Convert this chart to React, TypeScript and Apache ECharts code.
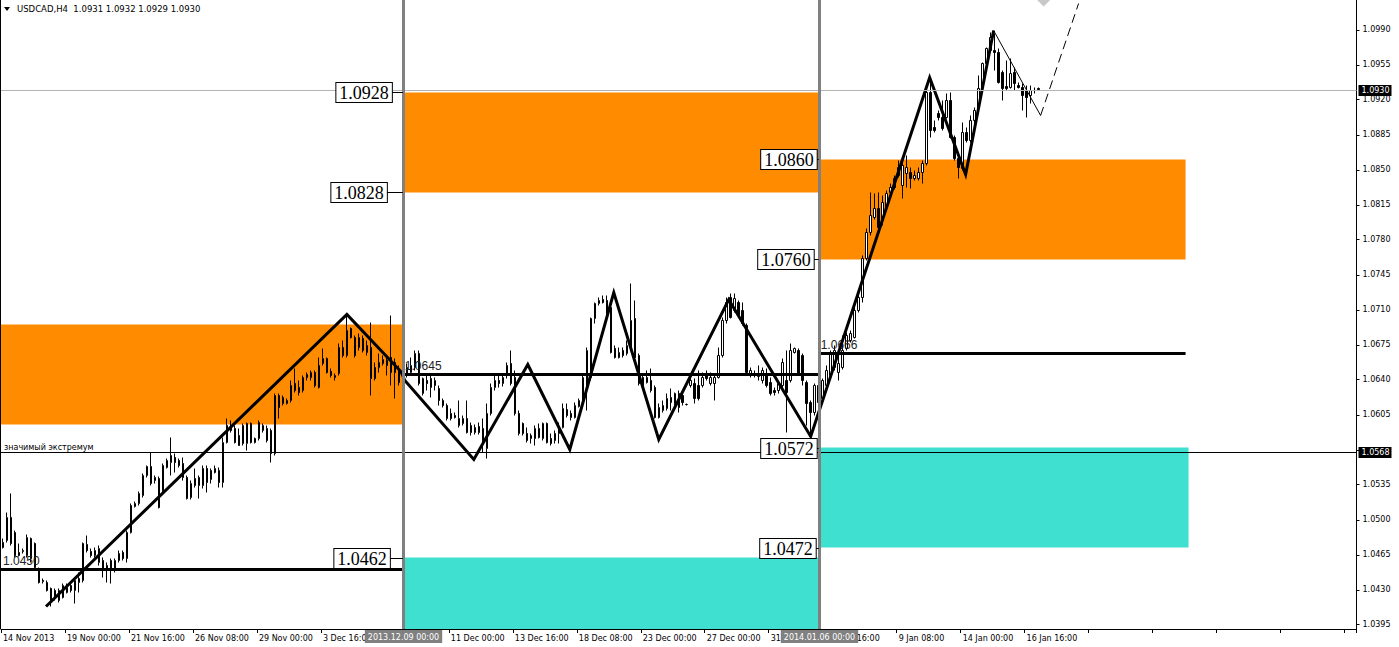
import React, { useEffect, useRef } from 'react';
import * as echarts from 'echarts';

// ---------- data ----------
const title = 'USDCAD,H4  1.0931 1.0932 1.0929 1.0930';
const slotCount = 339;
// one label every 16 bars; labels partly covered by the vertical-line time boxes keep only their visible part
const xTickLabels = ['14 Nov 2013', '19 Nov 00:00', '21 Nov 16:00', '26 Nov 08:00', '29 Nov 00:00', '3 Dec 16:00', '', '11 Dec 00:00', '13 Dec 16:00', '18 Dec 08:00', '23 Dec 00:00', '27 Dec 00:00', '31', '16:00', '9 Jan 08:00', '14 Jan 00:00', '16 Jan 16:00'];
const yTicks = [1.0395, 1.0430, 1.0465, 1.0500, 1.0535, 1.0570, 1.0605, 1.0640, 1.0675, 1.0710, 1.0745, 1.0780, 1.0815, 1.0850, 1.0885, 1.0920, 1.0955, 1.0990];
const yTickLabels = [1.0395, 1.0430, 1.0465, 1.0500, 1.0535, 1.0605, 1.0640, 1.0675, 1.0710, 1.0745, 1.0780, 1.0815, 1.0850, 1.0885, 1.0920, 1.0955, 1.0990];

// [open, close, low, high]
const candlesNov = [
  [1.0472,1.0477,1.0471,1.0481],[1.0479,1.0502,1.0477,1.0507],[1.0502,1.0476,1.0474,1.0526],[1.0487,1.0464,1.0462,1.0489],
  [1.0467,1.0464,1.0463,1.0476],[1.0468,1.0469,1.0466,1.0471],[1.0464,1.0482,1.0462,1.0485],[1.0481,1.0461,1.0457,1.0482],
  [1.0476,1.0452,1.0451,1.0477],[1.0451,1.0437,1.0436,1.0452],[1.0439,1.0438,1.0436,1.0441],[1.0437,1.0429,1.0428,1.0439],
  [1.0431,1.0419,1.0413,1.0432],[1.0429,1.0422,1.0419,1.0431],[1.0419,1.0429,1.0417,1.0431],[1.0422,1.0434,1.0421,1.0436],
  [1.0427,1.0432,1.0426,1.0436],[1.0434,1.0429,1.0427,1.0436],[1.0429,1.0439,1.0416,1.0441],[1.0437,1.0441,1.0427,1.0447],
  [1.0439,1.0476,1.0437,1.0477],[1.0475,1.0469,1.0467,1.0484],[1.0468,1.0464,1.0462,1.0471],[1.0464,1.0469,1.0462,1.0472],
  [1.0457,1.0471,1.0454,1.0474],[1.0459,1.0449,1.0442,1.0462],[1.0454,1.0451,1.0437,1.0457],[1.0459,1.0451,1.0436,1.0461],
  [1.0449,1.0459,1.0447,1.0461],[1.0459,1.0466,1.0457,1.0469],[1.0467,1.0461,1.0459,1.0469],[1.0461,1.0487,1.0457,1.0489],
  [1.0487,1.0514,1.0486,1.0516],[1.0513,1.0516,1.0512,1.0518],[1.0516,1.0526,1.0514,1.0528],[1.0524,1.0544,1.0522,1.0546],
  [1.0544,1.0553,1.0542,1.0554],[1.0553,1.0536,1.0534,1.0567],[1.0539,1.0542,1.0536,1.0544],[1.0541,1.0512,1.0511,1.0543],
  [1.0529,1.0554,1.0527,1.0556],[1.0552,1.0559,1.0551,1.0561],[1.0557,1.0564,1.0544,1.0582],[1.0562,1.0557,1.0547,1.0566],
  [1.0559,1.0554,1.0552,1.0561],[1.0556,1.0542,1.0539,1.0562],[1.0542,1.0521,1.0520,1.0544],[1.0522,1.0536,1.0520,1.0539],
  [1.0534,1.0541,1.0532,1.0551],[1.0542,1.0534,1.0521,1.0544],[1.0534,1.0551,1.0531,1.0554],[1.0551,1.0537,1.0527,1.0554],
  [1.0540,1.0549,1.0536,1.0551],[1.0547,1.0551,1.0546,1.0554],[1.0549,1.0537,1.0532,1.0552],[1.0537,1.0577,1.0532,1.0582],
  [1.0577,1.0594,1.0576,1.0601],[1.0594,1.0589,1.0587,1.0599],[1.0591,1.0577,1.0576,1.0594],[1.0584,1.0574,1.0574,1.0591],
  [1.0576,1.0594,1.0574,1.0596],[1.0576,1.0596,1.0569,1.0597],[1.0596,1.0577,1.0576,1.0597],[1.0577,1.0581,1.0576,1.0582],
  [1.0581,1.0597,1.0579,1.0599],[1.0589,1.0594,1.0587,1.0596],[1.0591,1.0579,1.0577,1.0594],[1.0589,1.0566,1.0557,1.0591],
  [1.0566,1.0624,1.0564,1.0626],[1.0624,1.0612,1.0601,1.0626],[1.0616,1.0622,1.0614,1.0624],[1.0616,1.0619,1.0615,1.0621],
  [1.0619,1.0634,1.0617,1.0639],[1.0636,1.0629,1.0627,1.0651],[1.0632,1.0627,1.0624,1.0639],[1.0629,1.0642,1.0627,1.0644],
  [1.0642,1.0645,1.0639,1.0647],[1.0642,1.0647,1.0639,1.0649],[1.0647,1.0634,1.0632,1.0649],[1.0632,1.0654,1.0631,1.0662],
  [1.0656,1.0661,1.0654,1.0671],[1.0661,1.0647,1.0646,1.0662],[1.0648,1.0644,1.0642,1.0651],[1.0642,1.0644,1.0639,1.0646],
  [1.0646,1.0672,1.0644,1.0676],[1.0672,1.0664,1.0662,1.0679],[1.0664,1.0689,1.0662,1.0704],[1.0691,1.0682,1.0681,1.0692],
  [1.0682,1.0664,1.0662,1.0684],[1.0672,1.0682,1.0669,1.0686],[1.0681,1.0669,1.0667,1.0684],[1.0667,1.0674,1.0664,1.0679],
  [1.0672,1.0641,1.0624,1.0697],[1.0652,1.0641,1.0639,1.0657],[1.0652,1.0657,1.0647,1.0666],[1.0656,1.0660,1.0654,1.0664],
  [1.0659,1.0654,1.0644,1.0664],[1.0662,1.0647,1.0634,1.0704],[1.0657,1.0647,1.0621,1.0661],[1.0649,1.0637,1.0634,1.0654],
  [1.0637,1.0644,1.0634,1.0649],
];
const candlesDec = [
  [1.0646,1.0652,1.0642,1.0656],[1.0647,1.0654,1.0644,1.0662],[1.0652,1.0666,1.0649,1.0669],[1.0666,1.0636,1.0634,1.0669],
  [1.0626,1.0641,1.0624,1.0642],[1.0639,1.0636,1.0629,1.0644],[1.0632,1.0641,1.0622,1.0644],[1.0634,1.0639,1.0629,1.0642],
  [1.0631,1.0619,1.0614,1.0634],[1.0619,1.0614,1.0612,1.0621],[1.0614,1.0601,1.0599,1.0616],[1.0606,1.0601,1.0599,1.0611],
  [1.0604,1.0602,1.0601,1.0607],[1.0594,1.0601,1.0592,1.0619],[1.0596,1.0601,1.0594,1.0604],[1.0601,1.0587,1.0586,1.0619],
  [1.0594,1.0587,1.0584,1.0597],[1.0587,1.0592,1.0585,1.0595],[1.0593,1.0587,1.0585,1.0597],[1.0591,1.0579,1.0567,1.0601],
  [1.0571,1.0606,1.0561,1.0616],[1.0606,1.0632,1.0604,1.0636],[1.0632,1.0639,1.0629,1.0644],[1.0639,1.0636,1.0632,1.0646],
  [1.0636,1.0642,1.0633,1.0644],[1.0646,1.0654,1.0641,1.0657],[1.0656,1.0636,1.0634,1.0669],[1.0642,1.0606,1.0604,1.0649],
  [1.0606,1.0586,1.0584,1.0609],[1.0596,1.0586,1.0584,1.0597],[1.0586,1.0579,1.0577,1.0592],[1.0581,1.0584,1.0576,1.0586],
  [1.0581,1.0591,1.0574,1.0594],[1.0591,1.0582,1.0581,1.0596],[1.0581,1.0596,1.0579,1.0597],[1.0596,1.0577,1.0576,1.0597],
  [1.0581,1.0576,1.0574,1.0586],[1.0579,1.0586,1.0576,1.0589],[1.0586,1.0592,1.0576,1.0597],[1.0592,1.0611,1.0591,1.0616],
  [1.0610,1.0604,1.0602,1.0616],[1.0606,1.0602,1.0599,1.0609],[1.0602,1.0614,1.0601,1.0617],[1.0613,1.0619,1.0612,1.0621],
  [1.0616,1.0642,1.0614,1.0646],[1.0632,1.0669,1.0609,1.0672],[1.0642,1.0701,1.0639,1.0702],[1.0701,1.0716,1.0696,1.0717],
  [1.0716,1.0719,1.0714,1.0722],[1.0720,1.0717,1.0716,1.0724],[1.0719,1.0702,1.0701,1.0724],[1.0712,1.0667,1.0666,1.0716],
  [1.0671,1.0662,1.0661,1.0674],[1.0662,1.0667,1.0661,1.0672],[1.0669,1.0664,1.0662,1.0672],[1.0666,1.0674,1.0664,1.0679],
  [1.0672,1.0699,1.0669,1.0736],[1.0701,1.0662,1.0661,1.0719],[1.0664,1.0636,1.0634,1.0666],[1.0642,1.0634,1.0632,1.0646],
  [1.0637,1.0642,1.0636,1.0649],[1.0639,1.0629,1.0627,1.0651],[1.0632,1.0602,1.0601,1.0634],[1.0602,1.0612,1.0601,1.0616],
  [1.0609,1.0614,1.0607,1.0619],[1.0611,1.0621,1.0609,1.0626],[1.0622,1.0617,1.0609,1.0631],[1.0616,1.0626,1.0614,1.0627],
  [1.0626,1.0612,1.0607,1.0629],[1.0624,1.0617,1.0614,1.0627],[1.0615,1.0615,1.0614,1.0616],[1.0634,1.0639,1.0632,1.0642],
  [1.0636,1.0621,1.0616,1.0641],[1.0634,1.0621,1.0619,1.0649],[1.0634,1.0642,1.0632,1.0647],[1.0644,1.0641,1.0639,1.0649],
  [1.0636,1.0642,1.0634,1.0647],[1.0636,1.0642,1.0619,1.0644],[1.0642,1.0664,1.0641,1.0672],[1.0664,1.0699,1.0662,1.0702],
  [1.0699,1.0717,1.0696,1.0722],[1.0722,1.0702,1.0701,1.0726],[1.0709,1.0721,1.0707,1.0726],[1.0717,1.0704,1.0702,1.0719],
  [1.0709,1.0696,1.0694,1.0717],[1.0694,1.0647,1.0646,1.0696],[1.0646,1.0649,1.0642,1.0652],[1.0646,1.0644,1.0642,1.0649],
  [1.0643,1.0646,1.0639,1.0654],[1.0639,1.0649,1.0636,1.0652],[1.0644,1.0634,1.0632,1.0651],[1.0637,1.0626,1.0624,1.0642],
  [1.0629,1.0627,1.0624,1.0632],[1.0629,1.0636,1.0626,1.0637],[1.0634,1.0657,1.0631,1.0661],[1.0639,1.0627,1.0587,1.0669],
  [1.0639,1.0669,1.0637,1.0676],[1.0667,1.0671,1.0666,1.0672],[1.0669,1.0646,1.0644,1.0671],[1.0664,1.0639,1.0634,1.0666],
  [1.0637,1.0616,1.0594,1.0639],[1.0617,1.0607,1.0586,1.0619],[1.0607,1.0634,1.0604,1.0636],[1.0634,1.0617,1.0607,1.0639],
];
const candlesJan = [
  [1.0621,1.0639,1.0617,1.0641],[1.0634,1.0649,1.0629,1.0654],[1.0644,1.0666,1.0642,1.0669],[1.0652,1.0669,1.0649,1.0674],
  [1.0647,1.0656,1.0639,1.0664],[1.0652,1.0669,1.0650,1.0684],[1.0671,1.0684,1.0669,1.0687],[1.0679,1.0686,1.0677,1.0689],
  [1.0682,1.0709,1.0681,1.0712],[1.0709,1.0722,1.0707,1.0726],[1.0722,1.0761,1.0717,1.0764],[1.0761,1.0787,1.0759,1.0791],
  [1.0787,1.0804,1.0784,1.0827],[1.0802,1.0811,1.0800,1.0826],[1.0811,1.0792,1.0789,1.0827],[1.0799,1.0817,1.0794,1.0824],
  [1.0812,1.0826,1.0809,1.0829],[1.0827,1.0832,1.0824,1.0836],[1.0841,1.0832,1.0830,1.0844],[1.0844,1.0852,1.0842,1.0859],
  [1.0834,1.0854,1.0821,1.0862],[1.0846,1.0852,1.0832,1.0864],[1.0847,1.0841,1.0831,1.0852],[1.0841,1.0844,1.0839,1.0849],
  [1.0841,1.0847,1.0839,1.0852],[1.0847,1.0856,1.0836,1.0859],[1.0856,1.0927,1.0854,1.0929],[1.0927,1.0889,1.0882,1.0941],
  [1.0892,1.0889,1.0887,1.0899],[1.0906,1.0902,1.0899,1.0909],[1.0902,1.0891,1.0889,1.0919],[1.0902,1.0919,1.0901,1.0926],
  [1.0919,1.0882,1.0881,1.0927],[1.0882,1.0861,1.0859,1.0884],[1.0861,1.0852,1.0841,1.0862],[1.0851,1.0887,1.0849,1.0897],
  [1.0887,1.0879,1.0877,1.0892],[1.0879,1.0899,1.0877,1.0904],[1.0899,1.0909,1.0896,1.0912],[1.0912,1.0931,1.0911,1.0944],
  [1.0932,1.0956,1.0929,1.0957],[1.0956,1.0971,1.0954,1.0972],[1.0969,1.0982,1.0967,1.0987],[1.0969,1.0967,1.0949,1.0986],
  [1.0967,1.0937,1.0936,1.0971],[1.0947,1.0931,1.0919,1.0949],[1.0933,1.0931,1.0929,1.0959],[1.0932,1.0946,1.0931,1.0961],
  [1.0947,1.0936,1.0929,1.0952],[1.0934,1.0932,1.0931,1.0937],[1.0932,1.0924,1.0909,1.0936],[1.0929,1.0922,1.0902,1.0934],
  [1.0924,1.0929,1.0916,1.0934],[1.0929,1.0929,1.0926,1.0932],[1.0931,1.0930,1.0929,1.0932],
];

// zones: [fromBar, toBar, priceTop, priceBottom]
const orangeZones = [[-2, 100, 1.0695, 1.0595], [100, 204, 1.0927, 1.0827], [204, 295.75, 1.0860, 1.0760]];
const cyanZones = [[100, 204, 1.0462, 1.0370], [204, 296.5, 1.0572, 1.0472]];
// horizontal levels: [fromBar, toBar, price]
const levels = [[-2, 100, 1.0450], [100, 204, 1.0645], [204, 295.75, 1.0666]];
// boxed price labels: [price, box right bar, connector end bar]
const priceLabels = [
  [1.0928, 97.25, 100], [1.0828, 96, 100], [1.0462, 96.75, 100],
  [1.0860, 203.5, 204], [1.0760, 202.75, 204], [1.0572, 203.5, 204], [1.0472, 203.25, 204],
];
const zigzag = [
  [10.75, 1.0413], [86, 1.0705], [99.5, 1.0648], [100.5, 1.0639], [117.75, 1.0560], [131.25, 1.0655],
  [141.75, 1.0570], [152.75, 1.0727], [164, 1.0580], [181.5, 1.0720], [202, 1.0583], [231.75, 1.0942],
  [240.75, 1.0845], [247.75, 1.0989],
];
const projectionDown = [[247.75, 1.0989], [259.5, 1.0904]];
const projectionUp = [[259.5, 1.0904], [269, 1.1016]];
const arrowMarker = [[260.25, 1.1021]];
const bidPrice = 1.0930;
const extremumPrice = 1.0568;
const hLinePrices = [bidPrice, extremumPrice];
const extremumLabel = 'значимый экстремум';
const vLineBars = [100, 204];
const vLineLabels = ['2013.12.09 00:00', '2014.01.06 00:00'];

const yMin = 1.03905;
const yMax = 1.10195;

const FONT = '"DejaVu Sans", sans-serif';

export default function App() {
  const ref = useRef<HTMLDivElement>(null);
  useEffect(() => {
    const chart = echarts.init(ref.current!, null, { renderer: 'svg' });
    const candles = [...candlesNov, ...candlesDec, ...candlesJan];
    const slots = Array.from({ length: slotCount }, (_, i) => String(i));

    const zoneSeries = (data: number[][], color: string) => ({
      type: 'custom', xAxisIndex: 1, yAxisIndex: 0, z: 1, clip: true, silent: true,
      encode: { x: [0, 1], y: [2, 3] },
      data,
      renderItem: (params: any, api: any) => {
        const a = api.coord([api.value(0), api.value(2)]);
        const b = api.coord([api.value(1), api.value(3)]);
        return { type: 'rect', shape: { x: a[0], y: a[1], width: b[0] - a[0], height: b[1] - a[1] }, style: { fill: color } };
      },
    });

    const option: any = {
      animation: false,
      backgroundColor: '#fff',
      grid: { left: 0.5, right: 42.5, top: 0, bottom: 18, containLabel: false },
      xAxis: [
        {
          type: 'category', data: slots, boundaryGap: true,
          axisLine: { show: true, onZero: false, lineStyle: { color: '#000', width: 1 } },
          axisTick: { show: true, length: 4, interval: (i: number) => i % 16 === 0, lineStyle: { color: '#000' } },
          axisLabel: {
            interval: (i: number) => i % 16 === 0,
            formatter: (_v: string, i: number) => {
              const t = xTickLabels[i / 16] ?? '';
              return i / 16 === 13 ? `{gap| }${t}` : t;
            },
            rich: { gap: { width: 22 } },
            align: 'left', color: '#000', fontSize: 8, fontFamily: FONT, margin: 5,
          },
          splitLine: { show: false },
        },
        {
          type: 'value', min: -0.5, max: slotCount - 0.5, show: false,
          axisLine: { show: false, onZero: false }, axisTick: { show: false }, axisLabel: { show: false }, splitLine: { show: false },
        },
      ],
      yAxis: {
        type: 'value', position: 'right', min: yMin, max: yMax,
        splitLine: { show: false },
        axisLine: { show: true, onZero: false, lineStyle: { color: '#000', width: 1 } },
        axisTick: { show: false },
        axisLabel: { customValues: yTickLabels, formatter: (v: number) => v.toFixed(4), color: '#000', fontSize: 8, fontFamily: FONT, margin: 6 },
      },
      graphic: [
        { type: 'polygon', shape: { points: [[4, 7], [10, 7], [7, 11]] }, style: { fill: '#000' } },
        { type: 'text', left: 17, top: 4, style: { text: title, fill: '#000', font: `8.5px ${FONT}` } },
        { type: 'line', shape: { x1: 0.5, y1: 0, x2: 0.5, y2: 629 }, style: { stroke: '#000', lineWidth: 1 } },
      ],
      series: [
        zoneSeries(orangeZones, '#FF8C00'),
        zoneSeries(cyanZones, '#40E0D0'),
        {
          type: 'candlestick', xAxisIndex: 0, yAxisIndex: 0, z: 3, barWidth: 2,
          data: candles,
          itemStyle: { color: '#fff', color0: '#000', borderColor: '#000', borderColor0: '#000', borderWidth: 1 },
        },
        {
          // y-axis tick marks
          type: 'custom', xAxisIndex: 1, yAxisIndex: 0, z: 3, clip: false, silent: true,
          encode: { y: 0 },
          data: yTicks.map((v) => [v]),
          renderItem: (params: any, api: any) => {
            const cs = params.coordSys;
            const y = Math.round(api.coord([0, api.value(0)])[1]) + 0.5;
            const x = cs.x + cs.width;
            return { type: 'line', shape: { x1: x, y1: y, x2: x + 3, y2: y }, style: { stroke: '#000', lineWidth: 1 } };
          },
        },
        {
          // bid line and the significant-extremum line, full width
          type: 'custom', xAxisIndex: 1, yAxisIndex: 0, z: 6, clip: false, silent: true,
          encode: { y: 0 },
          data: hLinePrices.map((p) => [p]),
          renderItem: (params: any, api: any) => {
            const cs = params.coordSys;
            const y = Math.round(api.coord([0, api.value(0)])[1]) + 0.5;
            const isBid = params.dataIndex === 0;
            const children: any[] = [
              { type: 'line', shape: { x1: cs.x, y1: y, x2: cs.x + cs.width, y2: y }, style: { stroke: isBid ? '#b4b4b4' : '#000', lineWidth: 1 } },
              { type: 'text', x: cs.x + cs.width + 2, y, style: { text: api.value(0).toFixed(4), fill: '#fff', backgroundColor: '#000', padding: [2, 2, 1, 3], font: `8px ${FONT}`, align: 'left', verticalAlign: 'middle' } },
            ];
            if (!isBid) {
              children.push({ type: 'text', x: cs.x + 3, y: y - 1, style: { text: extremumLabel, fill: '#000', font: `8px ${FONT}`, align: 'left', verticalAlign: 'bottom' } });
            }
            return { type: 'group', children };
          },
        },
        {
          type: 'custom', xAxisIndex: 1, yAxisIndex: 0, z: 4, clip: true, silent: true,
          encode: { x: [0, 1], y: 2 },
          data: levels,
          renderItem: (params: any, api: any) => {
            const cs = params.coordSys;
            const a = api.coord([api.value(0), api.value(2)]);
            const b = api.coord([api.value(1), api.value(2)]);
            const tx = Math.max(a[0], cs.x) + 2;
            return {
              type: 'group', children: [
                { type: 'line', shape: { x1: a[0], y1: a[1], x2: b[0], y2: b[1] }, style: { stroke: '#000', lineWidth: 3 } },
                { type: 'text', x: tx, y: a[1] - 3, style: { text: api.value(2).toFixed(4), fill: '#222', font: '12px "Liberation Sans", sans-serif', align: 'left', verticalAlign: 'bottom' } },
              ],
            };
          },
        },
        {
          type: 'line', xAxisIndex: 1, yAxisIndex: 0, z: 5, data: zigzag, symbol: 'none', silent: true,
          lineStyle: { color: '#000', width: 3, join: 'miter' },
        },
        {
          type: 'line', xAxisIndex: 1, yAxisIndex: 0, z: 5, data: projectionDown, symbol: 'none', silent: true,
          lineStyle: { color: '#000', width: 1 },
        },
        {
          type: 'line', xAxisIndex: 1, yAxisIndex: 0, z: 5, data: projectionUp, symbol: 'none', silent: true,
          lineStyle: { color: '#000', width: 1, type: [9, 5] },
        },
        {
          type: 'custom', xAxisIndex: 1, yAxisIndex: 0, z: 5, clip: true, silent: true,
          encode: { x: 0, y: 1 },
          data: arrowMarker,
          renderItem: (_params: any, api: any) => {
            const c = api.coord([api.value(0), api.value(1)]);
            return { type: 'polygon', shape: { points: [[c[0] - 8, c[1]], [c[0], c[1] - 8], [c[0] + 8, c[1]], [c[0], c[1] + 8]] }, style: { fill: '#c8c8c8' } };
          },
        },
        {
          type: 'custom', xAxisIndex: 1, yAxisIndex: 0, z: 8, clip: false, silent: true,
          encode: { x: 0 },
          data: vLineBars.map((b) => [b]),
          renderItem: (params: any, api: any) => {
            const cs = params.coordSys;
            const x = Math.round(api.coord([api.value(0), yMin])[0]) + 0.5;
            return {
              type: 'group', children: [
                { type: 'line', shape: { x1: x, y1: cs.y, x2: x, y2: cs.y + cs.height }, style: { stroke: '#808080', lineWidth: 3 } },
                { type: 'text', x, y: cs.y + cs.height + 1, style: { text: vLineLabels[params.dataIndex], fill: '#fff', backgroundColor: '#808080', padding: [3, 3, 2, 3], font: `8px ${FONT}`, align: 'center', verticalAlign: 'top' } },
              ],
            };
          },
        },
        {
          type: 'custom', xAxisIndex: 1, yAxisIndex: 0, z: 9, clip: false, silent: true,
          encode: { x: [1, 2], y: 0 },
          data: priceLabels,
          renderItem: (_params: any, api: any) => {
            const p = api.coord([api.value(1), api.value(0)]);
            const q = api.coord([api.value(2), api.value(0)]);
            const y = Math.round(p[1]) + 0.5;
            return {
              type: 'group', children: [
                { type: 'line', shape: { x1: p[0], y1: y, x2: q[0], y2: y }, style: { stroke: '#000', lineWidth: 1 } },
                { type: 'text', x: p[0], y, style: { text: api.value(0).toFixed(4), fill: '#000', font: '18px "Liberation Serif", serif', align: 'right', verticalAlign: 'middle', backgroundColor: '#fff', borderColor: '#000', borderWidth: 1, padding: [1, 3, 0, 3] } },
              ],
            };
          },
        },
      ],
    };
    chart.setOption(option);
    return () => chart.dispose();
  }, []);
  return <div ref={ref} style={{ position: 'fixed', left: 0, top: 0, width: 1399, height: 647, background: '#fff' }} />;
}
